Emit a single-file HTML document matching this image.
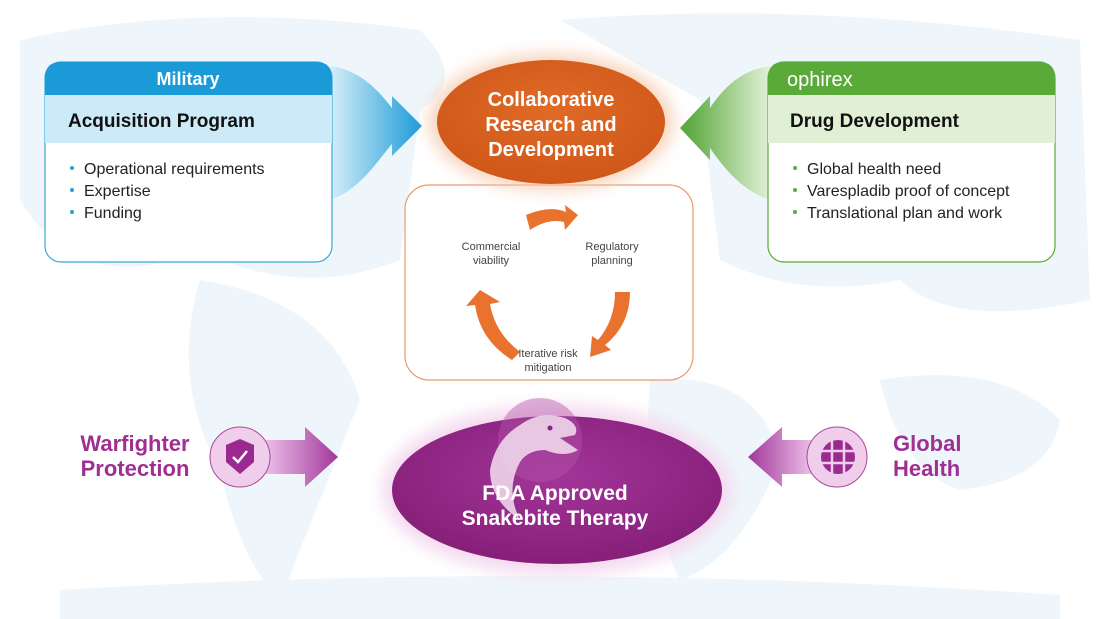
<!DOCTYPE html>
<html><head><style>
html,body{margin:0;padding:0;background:#fff;}
svg{display:block;font-family:"Liberation Sans",Arial,sans-serif;}
</style></head><body>
<svg width="1100" height="619" viewBox="0 0 1100 619" xmlns="http://www.w3.org/2000/svg">
<defs>
<linearGradient id="bl" x1="0" x2="1"><stop offset="0" stop-color="#d6eef9"/><stop offset="1" stop-color="#1c9bd8"/></linearGradient>
<linearGradient id="gr" x1="1" x2="0"><stop offset="0" stop-color="#e3f1d8"/><stop offset="1" stop-color="#4fa332"/></linearGradient>
<linearGradient id="pl" x1="0" x2="1"><stop offset="0" stop-color="#efc6ec"/><stop offset="1" stop-color="#a2379a"/></linearGradient>
<linearGradient id="pr" x1="1" x2="0"><stop offset="0" stop-color="#efc6ec"/><stop offset="1" stop-color="#a2379a"/></linearGradient>
<radialGradient id="pu" cx="0.5" cy="0.4" r="0.6"><stop offset="0" stop-color="#a3359a"/><stop offset="1" stop-color="#861f78"/></radialGradient>
<radialGradient id="or" cx="0.5" cy="0.4" r="0.6"><stop offset="0" stop-color="#e06a26"/><stop offset="1" stop-color="#cf581a"/></radialGradient>
<filter id="gl"><feGaussianBlur stdDeviation="8"/></filter>
</defs>
<g fill="#eef6fb">
<path d="M20 40 Q200 0 420 30 Q470 80 420 110 L400 260 Q300 300 200 250 Q80 300 20 200Z"/>
<path d="M560 20 Q800 0 1080 40 L1090 300 Q950 330 900 280 Q800 300 720 260 L700 100Z"/>
<path d="M200 280 Q330 300 360 400 Q320 500 280 600 Q240 560 220 470 Q170 380 200 280Z"/>
<path d="M650 380 Q760 370 780 460 Q740 560 680 580 Q640 500 650 380Z"/>
<path d="M880 380 Q1000 360 1060 420 Q1050 480 960 490 Q900 470 880 380Z"/>
<path d="M60 590 Q550 560 1060 595 L1060 619 L60 619Z"/>
</g>
<!-- blue funnel arrow -->
<path d="M330 66 C360 70 378 90 392 108 L392 96 L422 126 L392 156 L392 144 C378 160 360 190 330 200Z" fill="url(#bl)"/>
<rect x="45" y="62" width="287" height="200" rx="16" fill="#fff" stroke="#3aa8dc" stroke-width="1.2"/>
<path d="M45 78 Q45 62 61 62 L316 62 Q332 62 332 78 L332 95 L45 95Z" fill="#1a9ad6"/>
<rect x="45" y="95" width="287" height="48" fill="#cdeaf8"/>
<text x="188" y="85" text-anchor="middle" font-size="18" font-weight="bold" fill="#fff">Military</text>
<text x="68" y="127" font-size="19" font-weight="bold" fill="#111">Acquisition Program</text>
<g font-size="16" fill="#222"><text x="84" y="174">Operational requirements</text><text x="84" y="196">Expertise</text><text x="84" y="218">Funding</text></g>
<g fill="#2aa0d8"><circle cx="72" cy="168" r="2"/><circle cx="72" cy="190" r="2"/><circle cx="72" cy="212" r="2"/></g>
<!-- green funnel arrow -->
<path d="M770 66 C740 70 722 90 710 108 L710 96 L680 128 L710 160 L710 148 C722 165 740 190 770 200Z" fill="url(#gr)"/>
<rect x="768" y="62" width="287" height="200" rx="16" fill="#fff" stroke="#5aaa3a" stroke-width="1.2"/>
<path d="M768 78 Q768 62 784 62 L1039 62 Q1055 62 1055 78 L1055 95 L768 95Z" fill="#5aaa3a"/>
<rect x="768" y="95" width="287" height="48" fill="#e0f0d4"/>
<text x="787" y="86" font-size="20" fill="#fff">ophirex</text>
<text x="790" y="127" font-size="19" font-weight="bold" fill="#111">Drug Development</text>
<g font-size="16" fill="#222"><text x="807" y="174">Global health need</text><text x="807" y="196">Varespladib proof of concept</text><text x="807" y="218">Translational plan and work</text></g>
<g fill="#5aaa3a"><circle cx="795" cy="168" r="2"/><circle cx="795" cy="190" r="2"/><circle cx="795" cy="212" r="2"/></g>
<rect x="405" y="185" width="288" height="195" rx="24" fill="#fff" stroke="#eb9a6a" stroke-width="1.2"/>
<ellipse cx="551" cy="122" rx="122" ry="68" fill="#f5c7a8" filter="url(#gl)" opacity="0.8"/>
<ellipse cx="551" cy="122" rx="114" ry="62" fill="url(#or)"/>
<g font-size="20" font-weight="bold" fill="#fff" text-anchor="middle"><text x="551" y="106">Collaborative</text><text x="551" y="131">Research and</text><text x="551" y="156">Development</text></g>
<g fill="#e8722e">
<path d="M526 215 Q550 205 566 212 L565 205 L578 215 L565 230 L564 222 Q548 218 530 230Z"/>
<path d="M615 292 L630 292 Q630 325 605 345 L611 350 L590 357 L592 336 L598 340 Q615 320 615 292Z"/>
<path d="M520 352 L512 360 Q480 340 475 305 L466 306 L480 290 L500 302 L490 304 Q495 333 520 352Z"/>
</g>
<g font-size="11" fill="#444" text-anchor="middle"><text x="491" y="250">Commercial</text><text x="491" y="264">viability</text><text x="612" y="250">Regulatory</text><text x="612" y="264">planning</text><text x="548" y="357">Iterative risk</text><text x="548" y="371">mitigation</text></g>
<ellipse cx="557" cy="490" rx="175" ry="85" fill="#f4d9ef" filter="url(#gl)"/>
<ellipse cx="557" cy="490" rx="165" ry="74" fill="url(#pu)"/>
<circle cx="540" cy="440" r="42" fill="#b455a8" opacity="0.45"/>
<!-- snake -->
<path d="M520 425 Q540 410 565 418 Q580 425 575 435 L560 438 L578 450 Q565 458 545 450 Q528 450 520 462 Q505 490 520 520 Q490 500 490 470 Q495 440 520 425Z" fill="#f3dff0" opacity="0.85"/>
<circle cx="550" cy="428" r="2.5" fill="#8a2480"/>
<g font-size="21" font-weight="bold" fill="#fff" text-anchor="middle"><text x="555" y="500">FDA Approved</text><text x="555" y="525">Snakebite Therapy</text></g>
<path d="M262 440 L305 440 L305 427 L338 457 L305 487 L305 474 L262 474Z" fill="url(#pl)"/>
<circle cx="240" cy="457" r="30" fill="#f0cdea" stroke="#a64a9c" stroke-width="1"/>
<path d="M240 439 L254 445 L254 462 L240 474 L226 462 L226 445Z" fill="#9a2a90"/>
<path d="M233 457 L238 462 L247 451" fill="none" stroke="#fff" stroke-width="2.5"/>
<g font-size="22" font-weight="bold" fill="#9f2f93" text-anchor="middle"><text x="135" y="451">Warfighter</text><text x="135" y="476">Protection</text></g>
<path d="M815 440 L782 440 L782 427 L748 457 L782 487 L782 474 L815 474Z" fill="url(#pr)"/>
<circle cx="837" cy="457" r="30" fill="#f0cdea" stroke="#a64a9c" stroke-width="1"/>
<circle cx="838" cy="457" r="17" fill="#9a2a90"/>
<g stroke="#f0cdea" stroke-width="2.5" fill="none"><path d="M821 451 L855 451 M821 463 L855 463 M832 441 L832 473 M844 441 L844 473"/></g>
<g font-size="22" font-weight="bold" fill="#9f2f93"><text x="893" y="451">Global</text><text x="893" y="476">Health</text></g>
</svg>
</body></html>
